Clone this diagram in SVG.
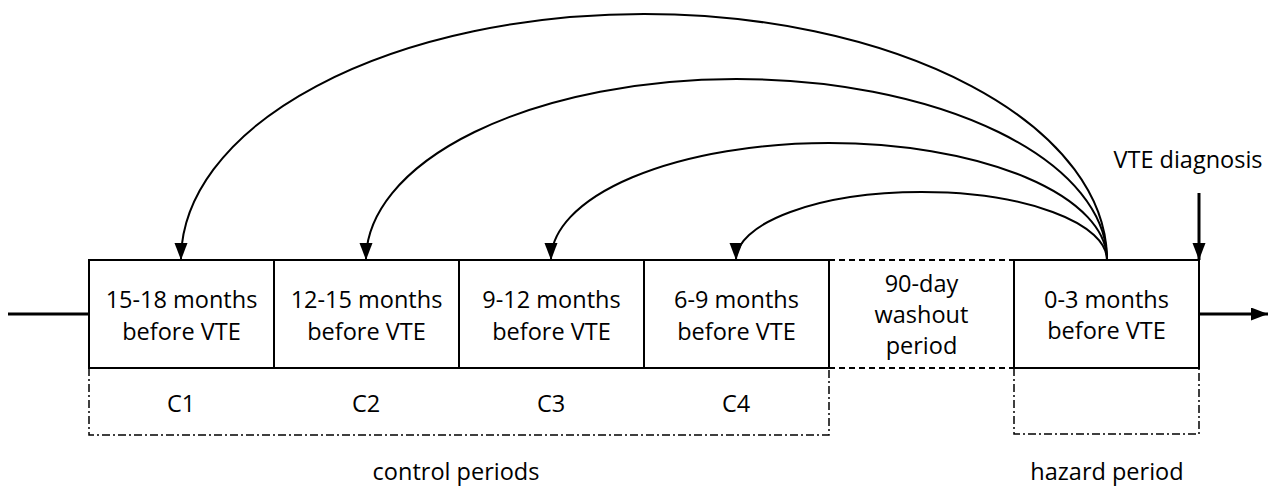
<svg xmlns="http://www.w3.org/2000/svg" width="1280" height="496" viewBox="0 0 1280 496">
<style>
.t{font-family:"Open Sans","Liberation Sans",sans-serif;font-size:23.5px;fill:#000;text-anchor:middle}
.box{fill:none;stroke:#000;stroke-width:2}
.dash{fill:none;stroke:#000;stroke-width:2;stroke-dasharray:6 4}
.dd{fill:none;stroke:#000;stroke-width:1.5;stroke-dasharray:8 3 2 3}
.arc{fill:none;stroke:#000;stroke-width:2}
</style>
<defs>
<marker id="ah" markerUnits="userSpaceOnUse" markerWidth="18" markerHeight="14" refX="17" refY="6.5" orient="auto">
<path d="M0,0 L17,6.5 L0,13 z" fill="#000"/>
</marker>
</defs>
<rect width="1280" height="496" fill="#fff"/>
<g id="connectors">
<line x1="8" y1="314" x2="89" y2="314" stroke="#000" stroke-width="3"/>
<line x1="1199" y1="314" x2="1268" y2="314" stroke="#000" stroke-width="3" marker-end="url(#ah)"/>
<line x1="1199" y1="193" x2="1199" y2="260" stroke="#000" stroke-width="3" marker-end="url(#ah)"/>
<path class="arc" d="M1107,260 A463,246 0 0 0 181,260" marker-end="url(#ah)"/>
<path class="arc" d="M1107,260 A370.5,181 0 0 0 366,260" marker-end="url(#ah)"/>
<path class="arc" d="M1107,260 A278,117 0 0 0 551,260" marker-end="url(#ah)"/>
<path class="arc" d="M1107,260 A185.5,68 0 0 0 736,260" marker-end="url(#ah)"/>
</g>
<g id="c1-box"><rect class="box" x="89" y="260" width="185" height="108"/>
<text class="t" x="181.5" y="308">15-18 months</text><text class="t" x="181.5" y="340">before VTE</text></g>
<g id="c2-box"><rect class="box" x="274" y="260" width="185" height="108"/>
<text class="t" x="366.5" y="308">12-15 months</text><text class="t" x="366.5" y="340">before VTE</text></g>
<g id="c3-box"><rect class="box" x="459" y="260" width="185" height="108"/>
<text class="t" x="551.5" y="308">9-12 months</text><text class="t" x="551.5" y="340">before VTE</text></g>
<g id="c4-box"><rect class="box" x="644" y="260" width="185" height="108"/>
<text class="t" x="736.5" y="308">6-9 months</text><text class="t" x="736.5" y="340">before VTE</text></g>
<g id="washout"><line class="dash" x1="829" y1="260" x2="1014" y2="260"/><line class="dash" x1="829" y1="368" x2="1014" y2="368"/>
<text class="t" x="921.5" y="292">90-day</text><text class="t" x="921.5" y="323">washout</text><text class="t" x="921.5" y="354">period</text></g>
<g id="hazard-box"><rect class="box" x="1014" y="260" width="185" height="108"/>
<text class="t" x="1106.5" y="308">0-3 months</text><text class="t" x="1106.5" y="339">before VTE</text></g>
<g id="control-group"><path class="dd" d="M89,368 V435 H829 V368"/>
<text class="t" x="181" y="412">C1</text><text class="t" x="366" y="412">C2</text><text class="t" x="551" y="412">C3</text><text class="t" x="736" y="412">C4</text>
<text class="t" x="456" y="480">control periods</text></g>
<g id="hazard-group"><path class="dd" d="M1014,368 V434 H1199 V368"/>
<text class="t" x="1107" y="480">hazard period</text></g>
<g id="vte-label"><text class="t" x="1188" y="168">VTE diagnosis</text></g>
</svg>
